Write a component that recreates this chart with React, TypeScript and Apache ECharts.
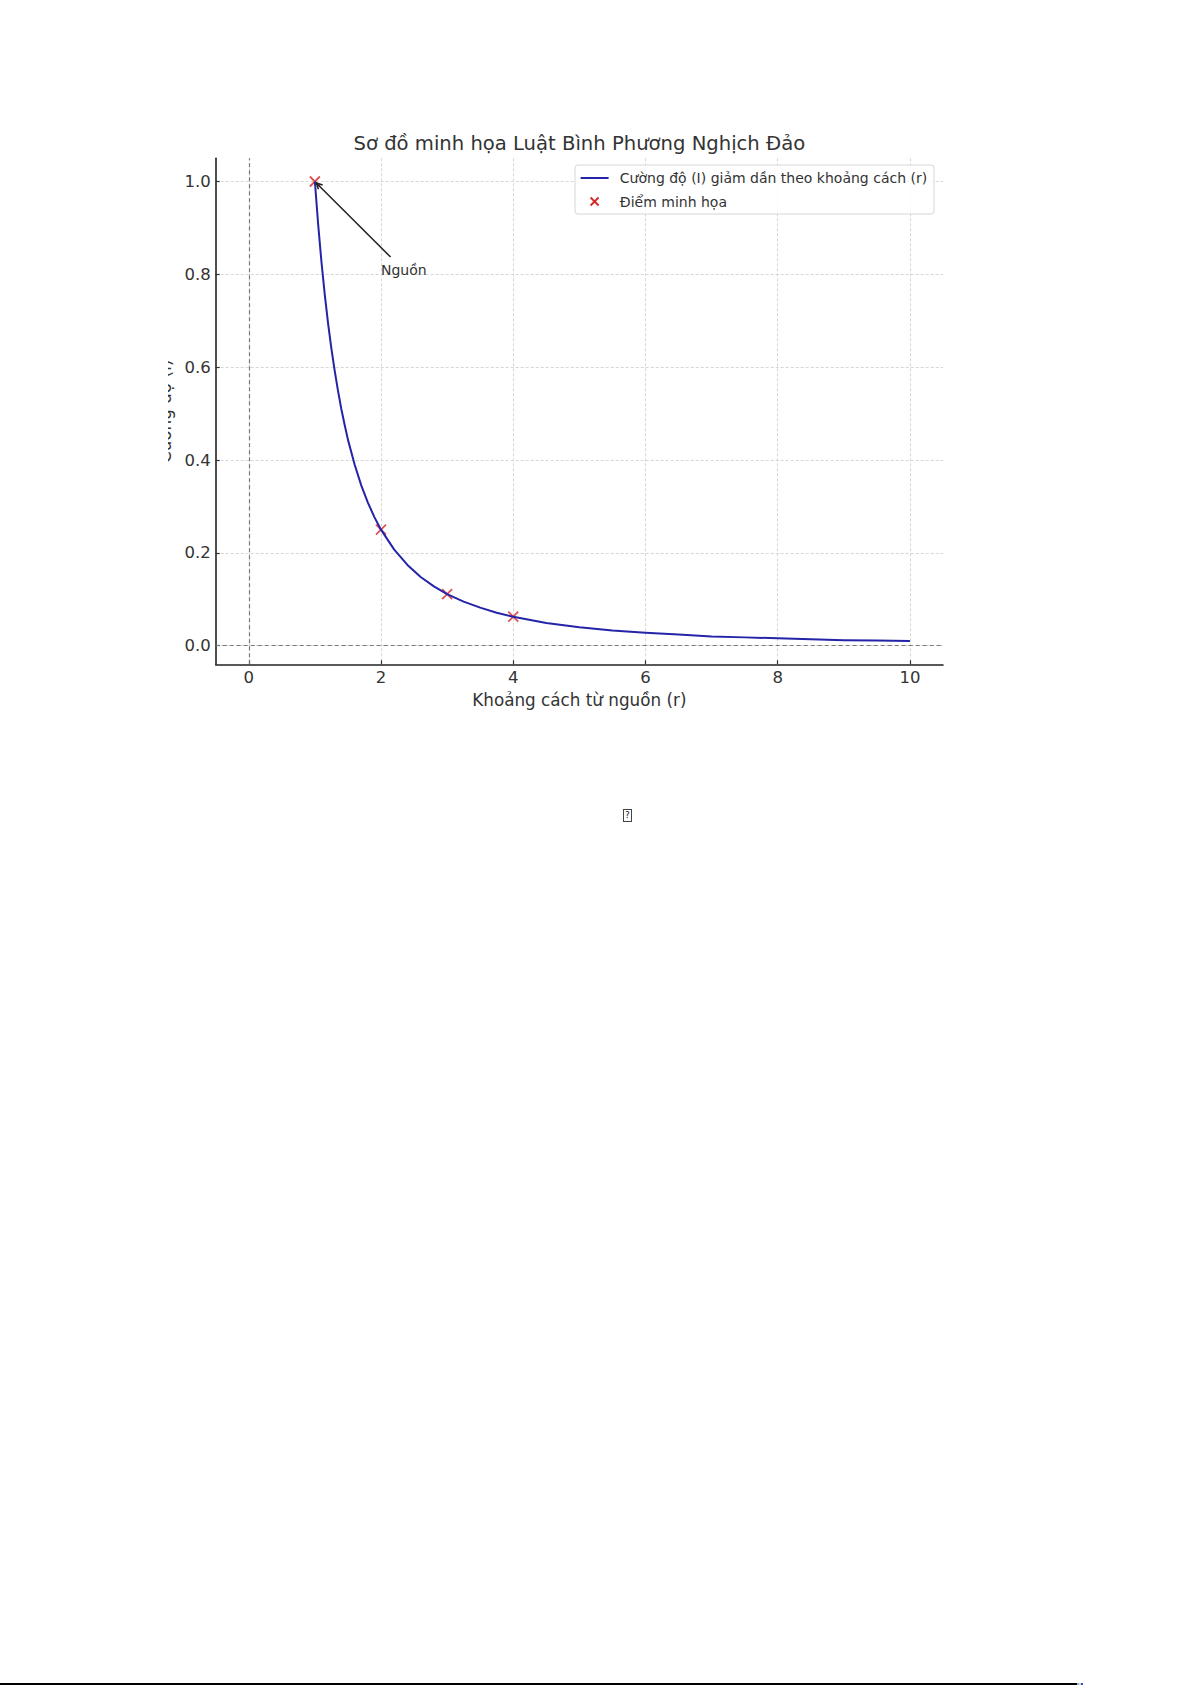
import React, { useEffect, useRef } from "react";
import * as echarts from "echarts";

// Intensity curve I(r)
const R_CURVE = [
  1.0, 1.05, 1.1, 1.15, 1.2, 1.25, 1.3, 1.35, 1.4, 1.45, 1.5, 1.6, 1.7, 1.8, 1.9, 2.0,
  2.2, 2.4, 2.6, 2.8, 3.0, 3.25, 3.5, 3.75, 4.0, 4.5, 5, 5.5, 6, 6.5, 7, 7.5, 8, 8.5, 9, 9.5, 10,
];
const I_CURVE = [
  1.0, 0.907, 0.826, 0.756, 0.694, 0.64, 0.592, 0.549, 0.51, 0.476, 0.444, 0.391, 0.346, 0.309, 0.277, 0.25,
  0.207, 0.174, 0.148, 0.128, 0.111, 0.095, 0.082, 0.071, 0.0625, 0.049, 0.04, 0.033, 0.028, 0.024, 0.02, 0.018,
  0.016, 0.014, 0.012, 0.011, 0.01,
];

// Highlighted sample points
const R_POINTS = [1, 2, 3, 4];
const I_POINTS = [1.0, 0.25, 0.111, 0.0625];

const X_TICKS = [0, 2, 4, 6, 8, 10];
const Y_TICKS = [0, 0.2, 0.4, 0.6, 0.8, 1.0];
const X_RANGE = [-0.5, 10.5];
const Y_RANGE = [-0.04, 1.05];

const TITLE = "Sơ đồ minh họa Luật Bình Phương Nghịch Đảo";
const X_NAME = "Khoảng cách từ nguồn (r)";
const Y_NAME = "Cường độ (I)";
const LINE_NAME = "Cường độ (I) giảm dần theo khoảng cách (r)";
const POINT_NAME = "Điểm minh họa";
const NOTE_TEXT = "Nguồn";
const NOTE_AT = [1, 1];
const NOTE_FROM = [2, 0.8];

const FONT = "'DejaVu Sans', sans-serif";
const TEXT_COLOR = "#333333";
const LINE_COLOR = "#2424a8";
const POINT_COLOR = "#d62728";
const CROSS = "path://M0,0L10,10M10,0L0,10";

// chart box placement on the page
const CHART_LEFT = 168;
const CHART_TOP = 100;
const CHART_W = 800;
const CHART_H = 640;

function Chart() {
  const ref = useRef<HTMLDivElement>(null);

  useEffect(() => {
    if (!ref.current) return;
    const chart = echarts.init(ref.current, null, { renderer: "svg" });

    const axisLineStyle = { color: "#222222", width: 1.6 };
    const tickStyle = { color: "#333333", width: 1.2 };
    const gridStyle = { color: "#d6d6d6", type: [3, 2], width: 1 };
    const labelStyle = { fontSize: 16.5, color: TEXT_COLOR, fontFamily: FONT };

    chart.setOption({
      animation: false,
      textStyle: { fontFamily: FONT },
      grid: {
        left: 47.7,
        top: 58.3,
        right: 25,
        bottom: 75.7,
        containLabel: false,
        outerBoundsMode: "none",
      },
      xAxis: {
        type: "value",
        min: X_RANGE[0],
        max: X_RANGE[1],
        name: X_NAME,
        nameLocation: "middle",
        nameGap: 27.5,
        nameTextStyle: { fontSize: 16.8, color: TEXT_COLOR, fontFamily: FONT },
        axisLine: { show: true, onZero: false, lineStyle: axisLineStyle },
        axisTick: { show: true, inside: true, length: 4, customValues: X_TICKS, lineStyle: tickStyle },
        axisLabel: { ...labelStyle, margin: 5, customValues: X_TICKS },
        splitLine: { show: true, lineStyle: gridStyle },
      },
      yAxis: {
        type: "value",
        min: Y_RANGE[0],
        max: Y_RANGE[1],
        name: Y_NAME,
        nameLocation: "middle",
        nameRotate: 90,
        nameGap: 40,
        nameTextStyle: { fontSize: 16.8, color: TEXT_COLOR, fontFamily: FONT },
        axisLine: { show: true, onZero: false, lineStyle: axisLineStyle },
        axisTick: { show: true, inside: true, length: 4, customValues: Y_TICKS, lineStyle: tickStyle },
        axisLabel: {
          ...labelStyle,
          margin: 5,
          customValues: Y_TICKS,
          formatter: (v: number) => v.toFixed(1),
        },
        splitLine: { show: true, lineStyle: gridStyle },
      },
      series: [
        {
          type: "scatter",
          name: POINT_NAME,
          data: R_POINTS.map((r, i) => [r, I_POINTS[i]]),
          symbol: CROSS,
          symbolSize: 10,
          itemStyle: { color: "transparent", borderColor: POINT_COLOR, borderWidth: 1.8 },
          z: 2,
          markLine: {
            silent: true,
            symbol: ["none", "none"],
            label: { show: false },
            lineStyle: { type: [4, 3], color: "#7a7a7a", width: 1.2 },
            data: [{ xAxis: 0 }, { yAxis: 0 }],
          },
        },
        {
          type: "line",
          name: LINE_NAME,
          data: R_CURVE.map((r, i) => [r, I_CURVE[i]]),
          smooth: false,
          showSymbol: false,
          symbol: "none",
          lineStyle: { color: LINE_COLOR, width: 2, join: "round" },
          z: 3,
        },
      ],
    });

    // Annotation arrow from the "Nguồn" label to the source point
    const from = chart.convertToPixel({ gridIndex: 0 }, NOTE_FROM) as number[];
    const at = chart.convertToPixel({ gridIndex: 0 }, NOTE_AT) as number[];
    const tail = [from[0] + 9.6, from[1] - 17.3];
    const dx = at[0] - tail[0];
    const dy = at[1] - tail[1];
    const len = Math.hypot(dx, dy);
    const ux = dx / len;
    const uy = dy / len;
    const tip = [at[0] - ux * 2, at[1] - uy * 2];
    const headL = 6;
    const headW = 3;
    const base = [tip[0] - ux * headL, tip[1] - uy * headL];
    const headA = [base[0] - uy * headW, base[1] + ux * headW];
    const headB = [base[0] + uy * headW, base[1] - ux * headW];

    // Legend box, in chart coordinates
    const lgX = 575 - CHART_LEFT;
    const lgY = 165 - CHART_TOP;
    const row1 = 178 - CHART_TOP;
    const row2 = 201.5 - CHART_TOP;
    const handleX = 580.6 - CHART_LEFT;
    const textX = 619.8 - CHART_LEFT;
    const markX = handleX + 14;

    chart.setOption({
      graphic: [
        {
          type: "text",
          x: (215.7 + 943) / 2 - CHART_LEFT,
          y: 143.9 - CHART_TOP,
          style: {
            text: TITLE,
            fontSize: 19.6,
            fontFamily: FONT,
            fill: TEXT_COLOR,
            align: "center",
            verticalAlign: "middle",
          },
        },
        {
          type: "text",
          x: from[0],
          y: from[1] - 4.84,
          z: 10,
          style: {
            text: NOTE_TEXT,
            fontSize: 14,
            fontFamily: FONT,
            fill: TEXT_COLOR,
            align: "left",
            verticalAlign: "middle",
          },
        },
        {
          type: "line",
          z: 10,
          shape: { x1: tail[0], y1: tail[1], x2: tip[0], y2: tip[1] },
          style: { stroke: "#222222", lineWidth: 1.5 },
        },
        {
          type: "polyline",
          z: 10,
          shape: { points: [headA, tip, headB] },
          style: { stroke: "#222222", lineWidth: 1.5, fill: "none" },
        },
        {
          type: "rect",
          z: 20,
          shape: { x: lgX, y: lgY, width: 359, height: 49, r: 3 },
          style: { fill: "rgba(255,255,255,0.85)", stroke: "#d6d6d6", lineWidth: 1 },
        },
        {
          type: "line",
          z: 21,
          shape: { x1: handleX, y1: row1, x2: handleX + 28, y2: row1 },
          style: { stroke: LINE_COLOR, lineWidth: 2 },
        },
        {
          type: "text",
          z: 21,
          x: textX,
          y: row1,
          style: {
            text: LINE_NAME,
            fontSize: 14,
            fontFamily: FONT,
            fill: TEXT_COLOR,
            align: "left",
            verticalAlign: "middle",
          },
        },
        {
          type: "line",
          z: 21,
          shape: { x1: markX - 4, y1: row2 - 4, x2: markX + 4, y2: row2 + 4 },
          style: { stroke: POINT_COLOR, lineWidth: 1.8 },
        },
        {
          type: "line",
          z: 21,
          shape: { x1: markX + 4, y1: row2 - 4, x2: markX - 4, y2: row2 + 4 },
          style: { stroke: POINT_COLOR, lineWidth: 1.8 },
        },
        {
          type: "text",
          z: 21,
          x: textX,
          y: row2,
          style: {
            text: POINT_NAME,
            fontSize: 14,
            fontFamily: FONT,
            fill: TEXT_COLOR,
            align: "left",
            verticalAlign: "middle",
          },
        },
      ],
    });

    return () => chart.dispose();
  }, []);

  return (
    <div
      ref={ref}
      style={{
        position: "absolute",
        left: CHART_LEFT,
        top: CHART_TOP,
        width: CHART_W,
        height: CHART_H,
        overflow: "hidden",
      }}
    />
  );
}

export default function App() {
  return (
    <div
      style={{
        position: "absolute",
        left: 0,
        top: 0,
        width: 1192,
        height: 1685,
        overflow: "hidden",
        background: "#ffffff",
      }}
    >
      <Chart />
      <div
        style={{
          position: "absolute",
          left: 623,
          top: 809,
          width: 7,
          height: 11,
          border: "1px solid #444",
          fontFamily: FONT,
          fontSize: 9,
          lineHeight: "11px",
          textAlign: "center",
          color: "#222",
        }}
      >
        ?
      </div>
      <div
        style={{
          position: "absolute",
          left: 0,
          top: 1683,
          width: 1077,
          height: 2,
          background: "#000000",
        }}
      />
      <div style={{ position: "absolute", left: 1077, top: 1683, width: 2, height: 2, background: "#66ccff" }} />
      <div style={{ position: "absolute", left: 1079, top: 1683, width: 2, height: 2, background: "#ffcc66" }} />
      <div style={{ position: "absolute", left: 1081, top: 1683, width: 2, height: 2, background: "#3344ff" }} />
    </div>
  );
}
